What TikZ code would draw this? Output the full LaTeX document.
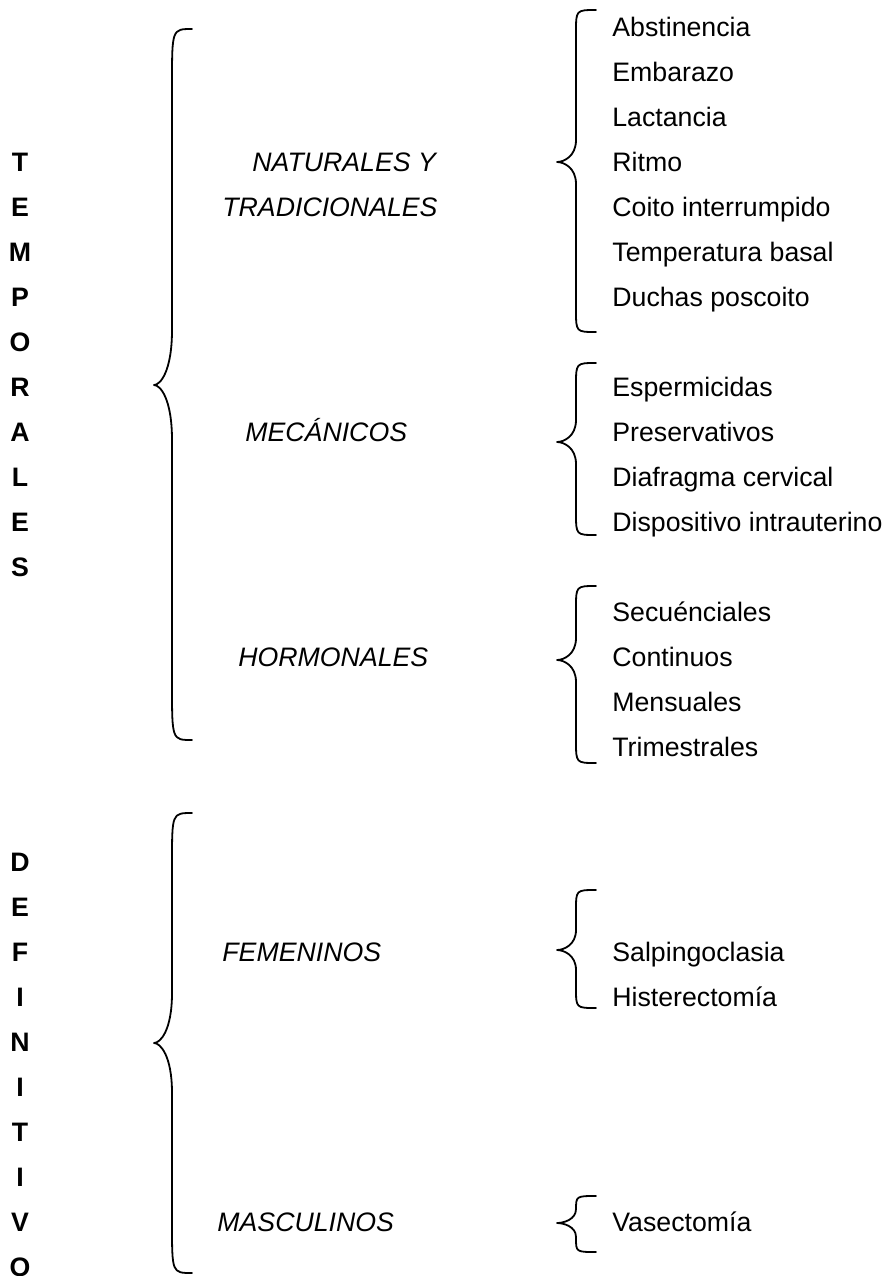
\documentclass[tikz,border=0pt]{standalone}
\usepackage{fontspec}
\setmainfont{Liberation Sans}
\tikzset{
  lett/.style={font=\fontsize{13.35}{16}\selectfont\bfseries, anchor=base, inner sep=0pt},
  cat/.style={font=\fontsize{13.35}{16}\selectfont\itshape, anchor=base west, inner sep=0pt},
  item/.style={font=\fontsize{13.35}{16}\selectfont, anchor=base west, inner sep=0pt},
  bracestyle/.style={line width=0.9pt, line join=round, line cap=round}
}
\newcommand{\drawbrace}[7]{%
  \draw[bracestyle] (#1,#4) .. controls (#2,#4) .. (#2,{#4+#7})
    -- (#2,{#5-#7}) .. controls (#2,{#5-0.25*#7}) and ({#3+0.35*(#2-#3)},#5) .. (#3,#5)
    .. controls ({#3+0.35*(#2-#3)},#5) and (#2,{#5+0.25*#7}) .. (#2,{#5+#7})
    -- (#2,{#6-#7}) .. controls (#2,#6) .. (#1,#6);}
\begin{document}
\begin{tikzpicture}[x=0.5pt,y=-0.5pt]
\useasboundingbox (0,0) rectangle (884,1276);
% left letters
\foreach \l [count=\i from 0] in {T,E,M,P,O,R,A,L,E,S}
  \node[lett] (t\i) at (20,{162+45*\i+9.6}) {\l};
\foreach \l [count=\i from 0] in {D,E,F,I,N,I,T,I,V,O}
  \node[lett] (d\i) at (20,{862+45*\i+9.6}) {\l};
% big braces
\drawbrace{192}{172}{154}{29}{385}{740}{55}
\drawbrace{192}{172}{154}{813}{1043}{1273}{50}
% categories
\node[cat] (nat) at (252,{162+9.6}) {NATURALES Y};
\node[cat] (trad) at (222,{207+9.6}) {TRADICIONALES};
\node[cat] (mec) at (245,{432+9.6}) {MECÁNICOS};
\node[cat] (hor) at (238,{657+9.6}) {HORMONALES};
\node[cat] (fem) at (222,{952+9.6}) {FEMENINOS};
\node[cat] (mas) at (217,{1222+9.6}) {MASCULINOS};
% small braces
\drawbrace{596}{576}{557}{10}{162}{332}{22}
\drawbrace{596}{576}{557}{363}{442}{535}{22}
\drawbrace{596}{576}{557}{586}{660}{763}{22}
\drawbrace{596}{576}{557}{890}{950}{1008}{20}
\drawbrace{596}{576}{557}{1196}{1223}{1252}{14}
% items
\node[item] (i1) at (612,{27+9.6}) {Abstinencia};
\node[item] (i2) at (612,{72+9.6}) {Embarazo};
\node[item] (i3) at (612,{117+9.6}) {Lactancia};
\node[item] (i4) at (612,{162+9.6}) {Ritmo};
\node[item] (i5) at (612,{207+9.6}) {Coito interrumpido};
\node[item] (i6) at (612,{252+9.6}) {Temperatura basal};
\node[item] (i7) at (612,{297+9.6}) {Duchas poscoito};
\node[item] (m1) at (612,{387+9.6}) {Espermicidas};
\node[item] (m2) at (612,{432+9.6}) {Preservativos};
\node[item] (m3) at (612,{477+9.6}) {Diafragma cervical};
\node[item] (m4) at (612,{522+9.6}) {Dispositivo intrauterino};
\node[item] (h1) at (612,{612+9.6}) {Secuénciales};
\node[item] (h2) at (612,{657+9.6}) {Continuos};
\node[item] (h3) at (612,{702+9.6}) {Mensuales};
\node[item] (h4) at (612,{747+9.6}) {Trimestrales};
\node[item] (f1) at (612,{952+9.6}) {Salpingoclasia};
\node[item] (f2) at (612,{997+9.6}) {Histerectomía};
\node[item] (v1) at (612,{1222+9.6}) {Vasectomía};
\end{tikzpicture}
\end{document}
